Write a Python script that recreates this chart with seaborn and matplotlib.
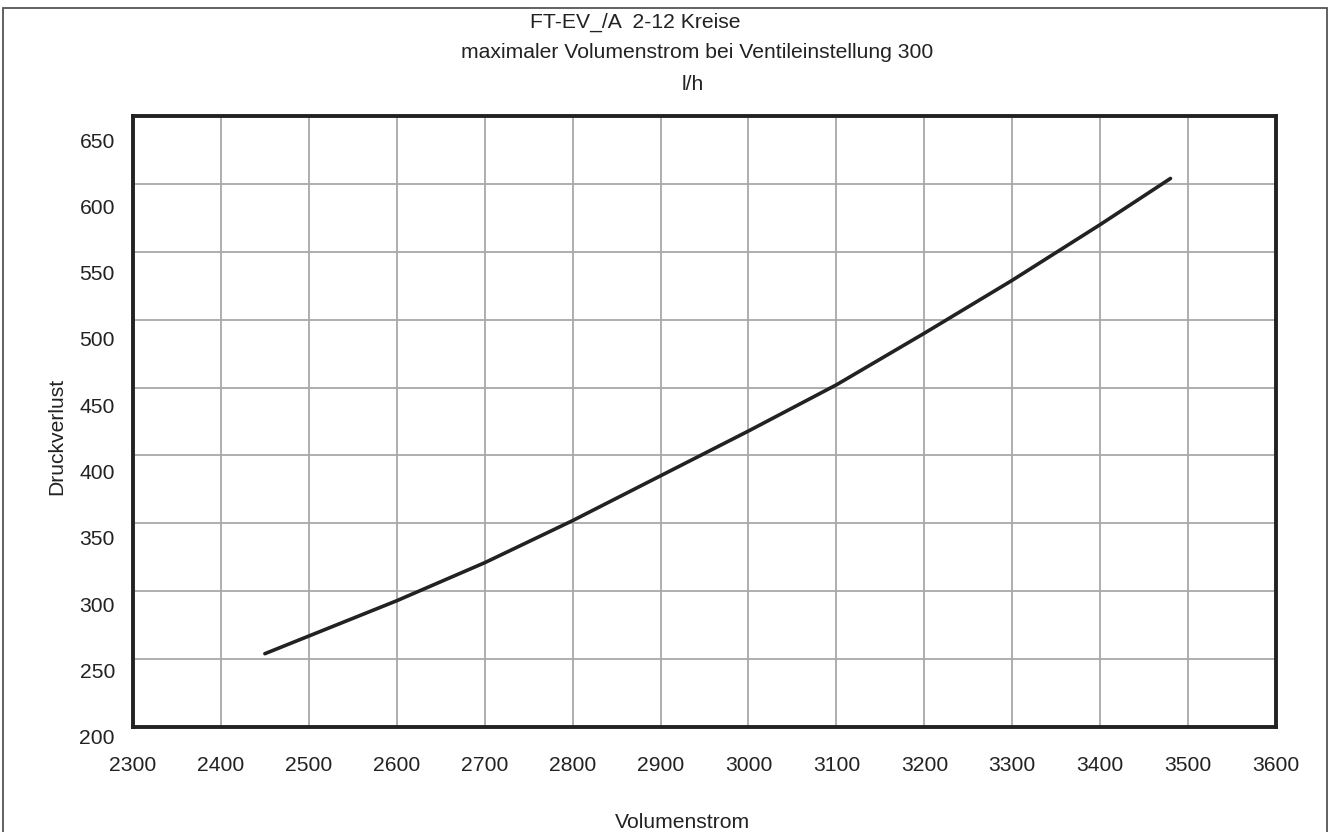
import matplotlib
matplotlib.use("Agg")
import matplotlib.pyplot as plt
import matplotlib.transforms as mtransforms
from matplotlib.patches import Rectangle
import pandas as pd
import seaborn as sns

# Values
volumenstrom = [2450, 2500, 2600, 2700, 2800, 2900, 3000, 3100, 3200, 3300, 3400, 3480]
druckverlust = [254, 267, 293, 321, 352, 385, 418, 452, 490, 529, 570, 604]
x_ticks = [2300, 2400, 2500, 2600, 2700, 2800, 2900, 3000, 3100, 3200, 3300, 3400, 3500, 3600]
y_ticks = [200, 250, 300, 350, 400, 450, 500, 550, 600, 650]

df = pd.DataFrame({"Volumenstrom": volumenstrom, "Druckverlust": druckverlust})

sns.set_style("white")
plt.rcParams["font.family"] = ["Liberation Sans", "DejaVu Sans"]
txt = "#222222"
fs = 15.2

fig = plt.figure(figsize=(13.29, 8.32), dpi=100)
ax = fig.add_axes([133 / 1329, 1 - 727 / 832, (1276 - 133) / 1329, (727 - 116) / 832])

sns.lineplot(data=df, x="Volumenstrom", y="Druckverlust", ax=ax,
             color="#222222", linewidth=2.6, sort=True)

ax.set_xlim(2300, 3600)
ax.set_ylim(200, 650)
ax.set_xticks(x_ticks)
ax.set_yticks(y_ticks)
ax.grid(True, color="#a8a8a8", linewidth=1.3)
ax.set_axisbelow(True)
for s in ax.spines.values():
    s.set_visible(True)
    s.set_color("#222222")
    s.set_linewidth(2.8)
ax.tick_params(axis="both", length=0, labelsize=fs, labelcolor=txt)
ax.tick_params(axis="x", pad=21)
ax.tick_params(axis="y", pad=13)
ax.set_xlabel("")
ax.set_ylabel("")

# y labels sit a little below their gridlines in the original
for lab, v in zip(ax.get_yticklabels(), y_ticks):
    off_px = 10 + (v - 200) / 450 * 14
    lab.set_transform(lab.get_transform() +
                      mtransforms.ScaledTranslation(0, -off_px / 100, fig.dpi_scale_trans))

fig.text(635 / 1329, 1 - 22 / 832, "FT-EV_/A  2-12 Kreise", ha="center", va="center",
         fontsize=fs, color=txt)
fig.text(697 / 1329, 1 - 53 / 832, "maximaler Volumenstrom bei Ventileinstellung 300",
         ha="center", va="center", fontsize=fs, color=txt)
fig.text(693 / 1329, 1 - 84 / 832, "l/h", ha="center", va="center", fontsize=fs, color=txt)
fig.text(57 / 1329, 1 - 436 / 832, "Druckverlust", rotation=90, ha="center", va="center",
         fontsize=fs, color=txt)
fig.text(682 / 1329, 1 - 822 / 832, "Volumenstrom", ha="center", va="center",
         fontsize=fs, color=txt)

# outer frame (bottom edge falls outside the image)
fig.patches.append(Rectangle((3 / 1329, -0.05), (1327 - 3) / 1329, 1.05 - 8 / 832,
                             transform=fig.transFigure, fill=False,
                             edgecolor="#555555", linewidth=1.3))

fig.savefig("out.png", dpi=100)
